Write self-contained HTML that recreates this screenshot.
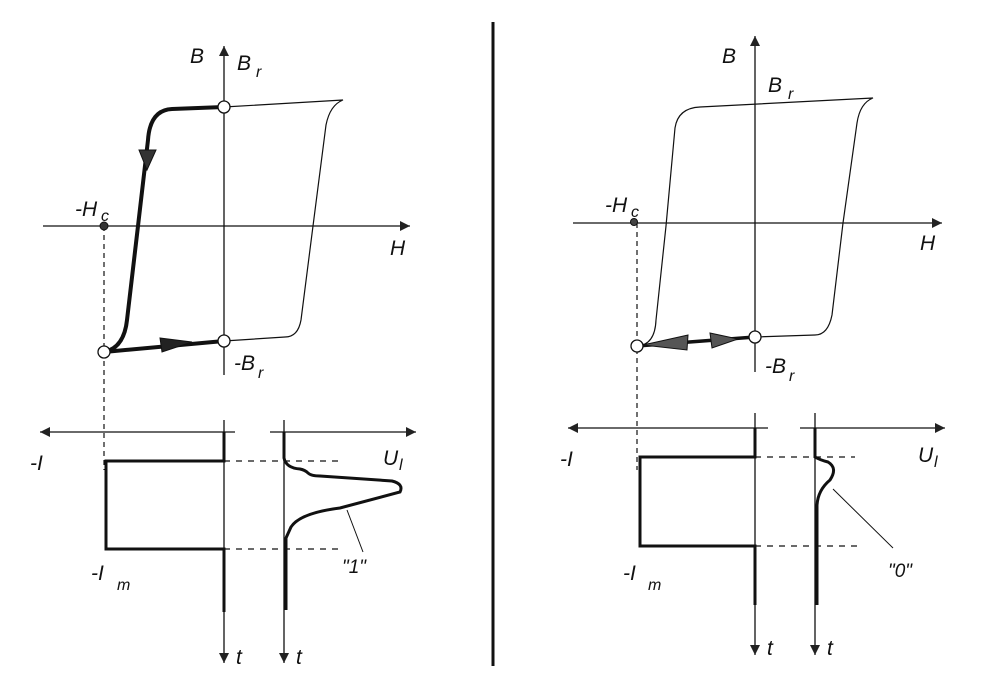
<!DOCTYPE html>
<html><head><meta charset="utf-8"><style>
html,body{margin:0;padding:0;background:#fff;}
svg{display:block;}
text{font-family:"Liberation Sans",sans-serif;font-style:italic;fill:#111;}
</style></head><body>
<svg width="995" height="686" viewBox="0 0 995 686" xmlns="http://www.w3.org/2000/svg">
<defs>
<marker id="a" viewBox="0 0 10 10" refX="10" refY="5" markerWidth="18" markerHeight="10" markerUnits="userSpaceOnUse" orient="auto"><path d="M0,0 L10,5 L0,10 z" fill="#222"/></marker>
</defs>
<g stroke="#111" fill="none">
<line x1="493" y1="22" x2="493" y2="666" stroke-width="3"/>

<!-- LEFT PANEL -->
<line x1="43" y1="226" x2="410" y2="226" stroke-width="1.3" marker-end="url(#a)"/>
<line x1="224" y1="375" x2="224" y2="46" stroke-width="1.3" marker-end="url(#a)"/>
<path d="M224,107 L343,100 Q330,105 326,125 L313,226 L301,320 Q298,337 285,337 L224,341" stroke-width="1.2"/>
<path d="M224,107 L172,109 Q150,110 148,140 L138,226 L127,320 Q124,348 104,352" stroke-width="4"/>
<path d="M104,352 L224,341" stroke-width="4"/>
<path d="M139,150 L156,150 L147,170 z" fill="#333" stroke-width="1"/>
<path d="M160,338 L192,342 L162,352 z" fill="#222" stroke-width="1"/>
<line x1="104" y1="226" x2="104" y2="470" stroke-width="1.2" stroke-dasharray="5,4"/>
<circle cx="104" cy="226" r="4" fill="#333" stroke-width="1"/>
<circle cx="224" cy="107" r="6" fill="#fff" stroke-width="1.3"/>
<circle cx="224" cy="341" r="6" fill="#fff" stroke-width="1.3"/>
<circle cx="104" cy="352" r="6" fill="#fff" stroke-width="1.3"/>
<line x1="235" y1="432" x2="40" y2="432" stroke-width="1.3" marker-end="url(#a)"/>
<line x1="224" y1="420" x2="224" y2="663" stroke-width="1.3" marker-end="url(#a)"/>
<path d="M224,432 L224,461 L106,461 L106,549 L224,549 L224,612" stroke-width="3"/>
<line x1="224" y1="461" x2="340" y2="461" stroke-width="1.2" stroke-dasharray="6,6"/>
<line x1="224" y1="549" x2="340" y2="549" stroke-width="1.2" stroke-dasharray="6,6"/>
<line x1="270" y1="432" x2="416" y2="432" stroke-width="1.3" marker-end="url(#a)"/>
<line x1="284" y1="420" x2="284" y2="663" stroke-width="1.3" marker-end="url(#a)"/>
<path d="M284,432 L284,458 Q286,468 300,469 Q305,470 308,473 Q311,476 320,476 L392,481 Q404,484 400,492 L340,508 Q300,513 291,527 L286,538 L286,610" stroke-width="3"/>
<line x1="347" y1="510" x2="363" y2="552" stroke-width="1"/>

<!-- RIGHT PANEL -->
<line x1="573" y1="223" x2="942" y2="223" stroke-width="1.3" marker-end="url(#a)"/>
<line x1="755" y1="372" x2="755" y2="36" stroke-width="1.3" marker-end="url(#a)"/>
<path d="M637,346 Q655,345 656,320 L666,226 L675,128 Q678,108 700,107 L873,98 Q860,103 857,123 L843,223 L832,315 Q828,335 815,335 L755,337" stroke-width="1.2"/>
<path d="M637,346 L755,337" stroke-width="3.5"/>
<path d="M643,345 L688,335 L687,350 z" fill="#555" stroke-width="1"/>
<path d="M710,333 L738,339 L712,348 z" fill="#555" stroke-width="1"/>
<line x1="637" y1="223" x2="637" y2="470" stroke-width="1.2" stroke-dasharray="5,4"/>
<circle cx="634" cy="222" r="3.5" fill="#444" stroke-width="1"/>
<circle cx="755" cy="337" r="6" fill="#fff" stroke-width="1.3"/>
<circle cx="637" cy="346" r="6" fill="#fff" stroke-width="1.3"/>
<line x1="768" y1="428" x2="568" y2="428" stroke-width="1.3" marker-end="url(#a)"/>
<line x1="755" y1="413" x2="755" y2="655" stroke-width="1.3" marker-end="url(#a)"/>
<path d="M755,428 L755,457 L640,457 L640,546 L755,546 L755,605" stroke-width="3"/>
<line x1="755" y1="457" x2="855" y2="457" stroke-width="1.2" stroke-dasharray="6,6"/>
<line x1="755" y1="546" x2="858" y2="546" stroke-width="1.2" stroke-dasharray="6,6"/>
<line x1="800" y1="428" x2="945" y2="428" stroke-width="1.3" marker-end="url(#a)"/>
<line x1="815" y1="413" x2="815" y2="655" stroke-width="1.3" marker-end="url(#a)"/>
<path d="M815,428 L815,457 Q820,460 828,462 Q838,468 830,480 Q818,490 817,505 L817,605" stroke-width="3"/>
<line x1="833" y1="489" x2="893" y2="548" stroke-width="1"/>
</g>
<g font-size="21">
<text x="190" y="63">B</text>
<text x="237" y="70">B</text><text x="256" y="77" font-size="16">r</text>
<text x="75" y="216">-H</text><text x="101" y="221" font-size="16">c</text>
<text x="390" y="255">H</text>
<text x="234" y="370">-B</text><text x="258" y="378" font-size="16">r</text>
<text x="30" y="470">-I</text>
<text x="383" y="465">U</text><text x="399" y="470" font-size="16">l</text>
<text x="91" y="580">-I</text><text x="117" y="590" font-size="16">m</text>
<text x="342" y="573" font-size="19">"1"</text>
<text x="236" y="664">t</text>
<text x="296" y="664">t</text>

<text x="722" y="63">B</text>
<text x="768" y="92">B</text><text x="788" y="99" font-size="16">r</text>
<text x="605" y="212">-H</text><text x="631" y="217" font-size="16">c</text>
<text x="920" y="250">H</text>
<text x="765" y="373">-B</text><text x="789" y="381" font-size="16">r</text>
<text x="560" y="466">-I</text>
<text x="918" y="462">U</text><text x="934" y="467" font-size="16">l</text>
<text x="623" y="580">-I</text><text x="648" y="590" font-size="16">m</text>
<text x="888" y="577" font-size="19">"0"</text>
<text x="767" y="655">t</text>
<text x="827" y="655">t</text>
</g>
</svg>
</body></html>
